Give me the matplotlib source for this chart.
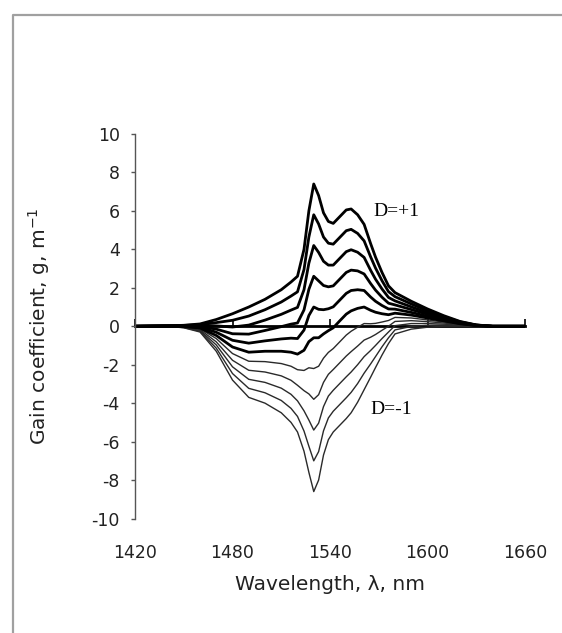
import matplotlib
matplotlib.use("Agg")
import matplotlib.pyplot as plt
from matplotlib.lines import Line2D
from matplotlib.ticker import NullFormatter

# Wavelength grid (nm)
wavelength = [1420, 1440, 1450, 1460, 1470, 1480, 1490, 1500, 1510, 1516, 1520, 1524, 1527,
              1530, 1533, 1536, 1539, 1542, 1546, 1550, 1553, 1557, 1561, 1565, 1568, 1572,
              1576, 1580, 1590, 1600, 1610, 1620, 1630, 1640, 1660]

# Gain coefficient (1/m) for inversion D
g_p10 = [0, 0.02, 0.05, 0.12, 0.35, 0.65, 1.0, 1.4, 1.9, 2.3, 2.6, 4.0, 6.0, 7.4, 6.8, 5.9, 5.45,
         5.35, 5.7, 6.05, 6.1, 5.8, 5.3, 4.3, 3.6, 2.8, 2.1, 1.75, 1.3, 0.9, 0.55, 0.25, 0.07, 0, 0]
g_p08 = [0, 0.02, 0.04, 0.08, 0.19, 0.31, 0.53, 0.86, 1.26, 1.57, 1.79, 2.95, 4.64, 5.80, 5.32,
         4.64, 4.32, 4.27, 4.62, 4.97, 5.04, 4.83, 4.44, 3.61, 3.03, 2.37, 1.80, 1.54, 1.16, 0.81,
         0.50, 0.23, 0.06, 0, 0]
g_p06 = [0, 0.02, 0.02, 0.04, 0.02, -0.04, 0.06, 0.32, 0.62, 0.84, 0.98, 1.90, 3.28, 4.20, 3.84,
         3.38, 3.18, 3.18, 3.53, 3.88, 3.98, 3.85, 3.58, 2.91, 2.45, 1.94, 1.50, 1.32, 1.01, 0.71,
         0.44, 0.20, 0.06, 0, 0]
g_p04 = [0, 0.01, 0.01, -0.01, -0.15, -0.39, -0.41, -0.22, -0.02, 0.11, 0.17, 0.85, 1.92, 2.60,
         2.36, 2.12, 2.05, 2.10, 2.45, 2.80, 2.92, 2.88, 2.72, 2.22, 1.88, 1.51, 1.20, 1.11, 0.87,
         0.62, 0.39, 0.18, 0.05, 0, 0]
g_p02 = [0, 0.01, 0.0, -0.05, -0.31, -0.73, -0.88, -0.76, -0.66, -0.62, -0.64, -0.20, 0.56, 1.00,
         0.88, 0.86, 0.91, 1.01, 1.36, 1.71, 1.86, 1.90, 1.86, 1.52, 1.30, 1.08, 0.90, 0.89, 0.72,
         0.52, 0.33, 0.15, 0.04, 0, 0]
g_000 = [0, 0.01, -0.02, -0.09, -0.48, -1.08, -1.35, -1.30, -1.30, -1.35, -1.45, -1.25, -0.80,
         -0.60, -0.60, -0.40, -0.23, -0.08, 0.28, 0.63, 0.80, 0.93, 1.00, 0.83, 0.73, 0.65, 0.60,
         0.68, 0.58, 0.43, 0.28, 0.13, 0.04, 0, 0]
g_m02 = [0, 0.01, -0.03, -0.13, -0.64, -1.42, -1.82, -1.84, -1.94, -2.08, -2.26, -2.30, -2.16,
         -2.20, -2.08, -1.66, -1.36, -1.16, -0.81, -0.46, -0.26, -0.05, 0.14, 0.13, 0.15, 0.22,
         0.30, 0.46, 0.43, 0.33, 0.22, 0.10, 0.03, 0, 0]
g_m04 = [0, 0.01, -0.04, -0.17, -0.81, -1.77, -2.29, -2.38, -2.58, -2.81, -3.07, -3.35, -3.52,
         -3.80, -3.56, -2.92, -2.50, -2.25, -1.90, -1.55, -1.32, -1.03, -0.72, -0.57, -0.43, -0.21,
         0.0, 0.25, 0.29, 0.24, 0.17, 0.08, 0.02, 0, 0]
g_m06 = [0, 0.0, -0.05, -0.22, -0.97, -2.11, -2.76, -2.92, -3.22, -3.54, -3.88, -4.40, -4.88,
         -5.40, -5.04, -4.18, -3.63, -3.33, -2.98, -2.63, -2.38, -2.00, -1.58, -1.26, -1.00, -0.64,
         -0.30, 0.03, 0.14, 0.14, 0.11, 0.05, 0.01, 0, 0]
g_m08 = [0, 0.0, -0.07, -0.26, -1.14, -2.46, -3.23, -3.46, -3.86, -4.27, -4.69, -5.45, -6.24,
         -7.00, -6.52, -5.44, -4.77, -4.42, -4.07, -3.72, -3.44, -2.98, -2.44, -1.96, -1.58, -1.07,
         -0.60, -0.19, -0.01, 0.05, 0.06, 0.03, 0.01, 0, 0]
g_m10 = [0, 0, -0.08, -0.3, -1.3, -2.8, -3.7, -4.0, -4.5, -5.0, -5.5, -6.5, -7.6, -8.6, -8.0, -6.7,
         -5.9, -5.5, -5.15, -4.8, -4.5, -3.95, -3.3, -2.65, -2.15, -1.5, -0.9, -0.4, -0.15, -0.05,
         0, 0, 0, 0, 0]

upper_curves = [g_p10, g_p08, g_p06, g_p04, g_p02, g_000]
lower_curves = [g_m02, g_m04, g_m06, g_m08, g_m10]

x_ticks = [1420, 1480, 1540, 1600, 1660]
y_ticks = [10, 8, 6, 4, 2, 0, -2, -4, -6, -8, -10]

W, H = 562, 633
fig = plt.figure(figsize=(W / 100, H / 100), dpi=100)
fig.patch.set_facecolor("white")

# outer frame: left and top edges only
frame_x = [12.5 / W, 12.5 / W, 1.0]
frame_y = [0.0, 1 - 15 / H, 1 - 15 / H]
fig.add_artist(Line2D(frame_x, frame_y, transform=fig.transFigure,
                      color="#a0a0a0", linewidth=1.6))

ax = fig.add_axes([135 / W, (H - 518.5) / H, 390 / W, 384.5 / H])
ax.set_xlim(1420, 1660)
ax.set_ylim(-10, 10)

for g in lower_curves:
    ax.plot(wavelength, g, color="#2a2a2a", lw=1.0, solid_joinstyle="round")
for g in upper_curves:
    ax.plot(wavelength, g, color="black", lw=2.0, solid_joinstyle="round")

for s in ["top", "right", "bottom"]:
    ax.spines[s].set_visible(False)
ax.spines["left"].set_color("#555555")
ax.spines["left"].set_linewidth(1.0)

# zero axis line with ticks
sec = ax.secondary_xaxis(0.5)
for s in sec.spines.values():
    s.set_linewidth(2.0)
    s.set_color("black")
sec.set_xticks(x_ticks)
sec.xaxis.set_major_formatter(NullFormatter())
sec.tick_params(axis="x", direction="out", length=5, width=1.2,
                labeltop=False, labelbottom=False)

ax.set_xticks(x_ticks)
ax.set_xticklabels([str(v) for v in x_ticks])
ax.tick_params(axis="x", length=0, pad=18, labelsize=12.5, labelcolor="#222222")
ax.set_yticks(y_ticks)
ax.set_yticklabels([str(v) for v in y_ticks])
ax.tick_params(axis="y", direction="out", length=3, width=1.0, color="#555555",
               pad=8, labelsize=12.5, labelcolor="#222222")

ax.set_xlabel("Wavelength, λ, nm", fontsize=14.5, color="#222222", labelpad=10)
ax.set_ylabel("Gain coefficient, g, m$^{-1}$", fontsize=14.5, color="#222222", labelpad=28)

ax.text(1567, 5.95, "D=+1", family="Liberation Serif", fontsize=14, va="center", ha="left")
ax.text(1565, -4.35, "D=-1", family="Liberation Serif", fontsize=14, va="center", ha="left")

fig.savefig("out.png", dpi=100, facecolor="white")
